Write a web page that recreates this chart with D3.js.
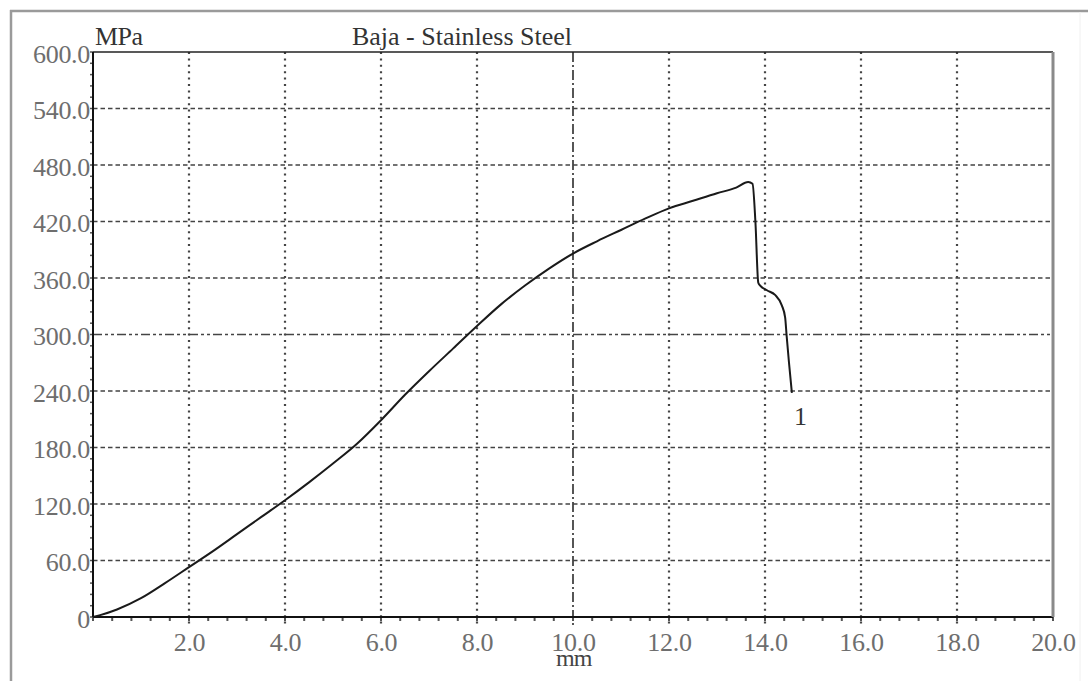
<!DOCTYPE html>
<html>
<head>
<meta charset="utf-8">
<script src="https://cdn.jsdelivr.net/npm/d3@7"></script>
<style>
html,body{margin:0;padding:0;background:#fff;}
svg{display:block;}
text{font-family:"Liberation Serif","Times New Roman",serif;}
</style>
</head>
<body>
<svg id="chart" width="1088" height="681"></svg>
<script>
// ---- data ----
const strainMM = [0, 0.15, 0.5, 1.0, 1.5, 2.0, 2.5, 3.0, 3.5, 4.0, 4.5, 5.0, 5.5, 6.0, 6.5, 7.0, 7.5, 8.0, 8.5, 9.0, 9.5, 10.0, 10.5, 11.0, 11.5, 12.0, 12.5, 13.0, 13.4, 13.65, 13.74, 13.8, 13.86, 13.9, 14.04, 14.21, 14.35, 14.42, 14.45, 14.5, 14.56];
const stressMPa = [0, 2, 8, 20, 36, 53, 70, 88, 106, 124, 143, 163, 184, 209, 236, 261, 285, 309, 332, 352, 370, 386, 399, 411, 423, 434, 442, 450, 456, 462, 460, 420, 355, 352, 347, 342, 331, 318, 299, 270, 238];
const xTicks = [2, 4, 6, 8, 10, 12, 14, 16, 18, 20];
const xTickLabels = ["2.0", "4.0", "6.0", "8.0", "10.0", "12.0", "14.0", "16.0", "18.0", "20.0"];
const yTicks = [0, 60, 120, 180, 240, 300, 360, 420, 480, 540, 600];
const yTickLabels = ["0", "60.0", "120.0", "180.0", "240.0", "300.0", "360.0", "420.0", "480.0", "540.0", "600.0"];
const titleText = "Baja - Stainless Steel";
const yUnit = "MPa";
const xUnit = "mm";
const curveLabel = "1";

// ---- layout ----
const svg = d3.select("#chart");
const L = 93, R = 1053, T = 52, B = 617;
const x = d3.scaleLinear().domain([0, 20]).range([L, R]);
const y = d3.scaleLinear().domain([0, 600]).range([B, T]);

// outer frame
svg.append("line").attr("x1", 10).attr("x2", 1088).attr("y1", 11).attr("y2", 11)
  .attr("stroke", "#9a9a9a").attr("stroke-width", 2.5);
svg.append("line").attr("x1", 11).attr("x2", 11).attr("y1", 10).attr("y2", 681)
  .attr("stroke", "#9a9a9a").attr("stroke-width", 2.5);
svg.append("line").attr("x1", 1080).attr("x2", 1080).attr("y1", 12).attr("y2", 681)
  .attr("stroke", "#f0f0f0").attr("stroke-width", 1);

const grid = svg.append("g");
// horizontal grid
yTicks.filter(v => v > 0 && v < 600).forEach(v => {
  grid.append("line")
    .attr("x1", L).attr("x2", R).attr("y1", y(v)).attr("y2", y(v))
    .attr("stroke", "#444").attr("stroke-width", 1.6)
    .attr("stroke-dasharray", v === 300 ? "9,3,3,3,3,3" : "4.5,3");
});
// vertical grid
xTicks.filter(v => v < 20).forEach(v => {
  grid.append("line")
    .attr("x1", x(v)).attr("x2", x(v)).attr("y1", T).attr("y2", B + 8)
    .attr("stroke", "#444").attr("stroke-width", v === 10 ? 1.8 : 2.2)
    .attr("stroke-dasharray", v === 10 ? "10,3,2,3" : "2,4.4");
});

// minor ticks bottom
const minorX = d3.range(0, 20.0001, 0.4);
svg.append("g").selectAll("line").data(minorX).enter().append("line")
  .attr("x1", d => x(d)).attr("x2", d => x(d))
  .attr("y1", B).attr("y2", B + 4)
  .attr("stroke", "#555").attr("stroke-width", 2);
// minor ticks left
const minorY = d3.range(0, 600.001, 12);
svg.append("g").selectAll("line").data(minorY).enter().append("line")
  .attr("x1", L - 3).attr("x2", L)
  .attr("y1", d => y(d)).attr("y2", d => y(d))
  .attr("stroke", "#555").attr("stroke-width", 1.5);

// axes frame
svg.append("line").attr("x1", L).attr("x2", R).attr("y1", T).attr("y2", T).attr("stroke", "#222").attr("stroke-width", 1.5);
svg.append("line").attr("x1", L).attr("x2", R).attr("y1", B).attr("y2", B).attr("stroke", "#111").attr("stroke-width", 2);
svg.append("line").attr("x1", L).attr("x2", L).attr("y1", T).attr("y2", B).attr("stroke", "#111").attr("stroke-width", 2);
svg.append("line").attr("x1", R).attr("x2", R).attr("y1", T).attr("y2", B).attr("stroke", "#8a8a8a").attr("stroke-width", 3);

// tick labels
const yAxis = d3.axisLeft(y).tickValues(yTicks).tickSize(0).tickPadding(3)
  .tickFormat((d, i) => yTickLabels[i]);
const gy = svg.append("g").attr("transform", `translate(${L},0)`).call(yAxis);
gy.select(".domain").remove();
gy.selectAll("text").attr("font-family", "Liberation Serif").attr("font-size", 26)
  .attr("fill", "#6e6e6e").attr("dy", "0.62em").attr("y", -6).attr("letter-spacing", -0.3);

const xAxis = d3.axisBottom(x).tickValues(xTicks).tickSize(0).tickPadding(16)
  .tickFormat((d, i) => xTickLabels[i]);
const gx = svg.append("g").attr("transform", `translate(0,${B})`).call(xAxis);
gx.select(".domain").remove();
gx.selectAll("text").attr("font-family", "Liberation Serif").attr("font-size", 26)
  .attr("fill", "#6e6e6e").attr("letter-spacing", -0.3);

// curve
const line = d3.line().x((d, i) => x(strainMM[i])).y(d => y(d)).curve(d3.curveMonotoneX);
svg.append("path").datum(stressMPa).attr("d", line)
  .attr("fill", "none").attr("stroke", "#1a1a1a").attr("stroke-width", 2)
  .attr("stroke-linejoin", "round");

// texts
svg.append("text").attr("x", 95).attr("y", 45).attr("font-size", 26).attr("fill", "#333")
  .attr("letter-spacing", -0.5).text(yUnit);
svg.append("text").attr("x", 352).attr("y", 45).attr("font-size", 26).attr("fill", "#333")
  .attr("textLength", 220).attr("lengthAdjust", "spacing").text(titleText);
svg.append("text").attr("x", x(10) - 17).attr("y", 666).attr("font-size", 24).attr("fill", "#444")
  .attr("letter-spacing", -1).text(xUnit);
svg.append("text").attr("x", x(strainMM[strainMM.length - 1]) + 2).attr("y", y(stressMPa[stressMPa.length - 1]) + 32)
  .attr("font-size", 26).attr("fill", "#333").text(curveLabel);
</script>
</body>
</html>
